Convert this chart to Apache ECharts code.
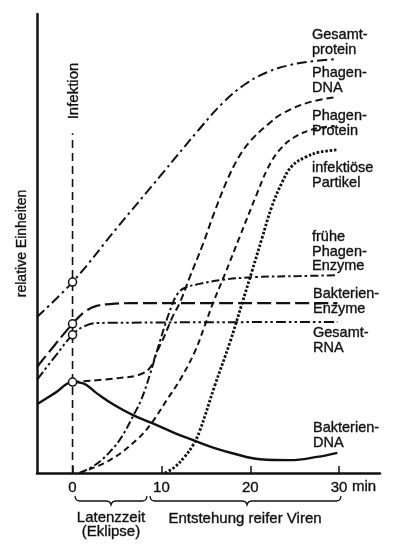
<!DOCTYPE html>
<html><head><meta charset="utf-8">
<script src="https://cdn.jsdelivr.net/npm/echarts@6/dist/echarts.min.js"></script>
<style>html,body{margin:0;padding:0;background:#fff}#c{width:396px;height:560px}</style>
</head><body><div id="c"></div>
<script>
// ---- data (x: minutes after infection, y: relative units 0..100) ----
const xTicks = [0, 10, 20, 30];
const gesamtProtein = [[-4,34.0],[0,41.6],[5,53.4],[10,65.0],[14.3,75.0],[17,80.8],[19.5,84.8],[22,87.4],[24.5,88.9],[27,89.7],[29.8,90.2]];
const phagenDNA = [[0,19.8],[5.3,20.7],[7.5,21.4],[8.7,22.9],[9.5,26.4],[10.4,30.1],[11.2,33.8],[12.1,37.2],[13.2,42.7],[14.7,50.0],[16.0,57.0],[17.4,63.8],[18.7,68.8],[20.0,72.3],[21.9,75.8],[23.7,78.4],[26.7,80.8],[29.8,81.9]];
const phagenProtein = [[0.8,0],[4.2,2.8],[7.2,7.2],[8.9,10.9],[10.6,15.9],[12.1,20.3],[13.75,26.4],[14.9,32.2],[15.8,37.0],[17.1,43.1],[18.8,51.4],[20.7,60.6],[22.0,66.5],[23.3,70.4],[25.0,73.2],[27.3,75.0],[29.5,75.6]];
const infektiosePartikel = [[10.4,0],[11.5,1.3],[12.6,3.5],[13.5,5.9],[14.3,9.1],[16.0,19.0],[17.7,28.4],[19.05,36.8],[20.2,44.0],[21.3,51.0],[22.4,57.9],[23.6,63.4],[24.7,66.9],[26.2,68.8],[27.8,69.9],[29.8,70.4]];
const fruehePhagenEnzyme = [[0.8,0],[2.5,1.7],[4.2,4.6],[5.5,7.8],[7.0,13.1],[7.8,16.3],[8.7,21.4],[9.6,27.2],[10.4,32.2],[11.2,36.6],[11.8,39.0],[12.6,40.3],[14.3,41.2],[16.9,42.1],[20.7,42.7],[25.6,42.9],[29.8,43.1]];
const bakterienEnzyme = [[-4,23.1],[-2,27.9],[0,32.5],[1.35,35.1],[2.7,36.4],[4.2,36.8],[6.4,37.0],[29.8,37.0]];
const gesamtRNA = [[-4,20.3],[-2,25.3],[0,30.1],[1.35,32.0],[3.0,32.7],[29.8,32.9]];
const bakterienDNA = [[-4,15.0],[-2,17.4],[0,19.8],[1.1,19.6],[2.7,17.4],[4.7,14.8],[6.8,12.6],[8.9,10.9],[11.5,8.7],[13.5,7.2],[16.0,5.4],[18.0,4.3],[21.1,3.0],[24.5,2.8],[27.5,3.5],[29.8,4.4]];
const infektionLine = [[0,0],[0,74]];
const infektionCircles = [[0,41.6],[0,32.5],[0,30.1],[0,19.8]];

const curveLabels = [
  {text:'Gesamt-\nprotein', x:312, y:28},
  {text:'Phagen-\nDNA', x:312, y:66},
  {text:'Phagen-\nProtein', x:312, y:109},
  {text:'infektiöse\nPartikel', x:312, y:161},
  {text:'frühe\nPhagen-\nEnzyme', x:312, y:230},
  {text:'Bakterien-\nEnzyme', x:313, y:287},
  {text:'Gesamt-\nRNA', x:313, y:326},
  {text:'Bakterien-\nDNA', x:313, y:421}
];

const FONT = "'Liberation Sans', Arial, sans-serif";
const INK = '#111';
const TXT = {fontFamily:FONT, fill:INK, stroke:INK, lineWidth:0.35};

function curve(name, data, dash, width, smooth) {
  return {
    name, type:'line', data, showSymbol:false, silent:true,
    smooth: smooth === undefined ? 0.4 : smooth,
    lineStyle:{color:INK, width, type:dash, cap:'butt'}, z:3
  };
}
function brace(x0, x1, xm) {
  return {type:'polyline', silent:true, shape:{points:[
      [x0,496],[x0+0.6,498.6],[x0+2,500.3],[x0+4.5,501],[xm-4.5,501],[xm-2,501.7],[xm-0.6,503.2],[xm,505],
      [xm+0.6,503.2],[xm+2,501.7],[xm+4.5,501],[x1-4.5,501],[x1-2,500.3],[x1-0.6,498.6],[x1,496]]},
    style:{fill:null, stroke:INK, lineWidth:1.3}};
}

const chart = echarts.init(document.getElementById('c'), null, {renderer:'canvas'});
const option = {
  animation:false,
  backgroundColor:'#fff',
  grid:{left:37, top:14, width:343, height:459, containLabel:false},
  xAxis:{
    type:'value', min:-4, max:34.6,
    axisLine:{show:true, onZero:false, lineStyle:{color:INK, width:2.5}},
    axisTick:{show:true, inside:true, length:7, customValues:xTicks, lineStyle:{color:INK, width:1.5}},
    axisLabel:{show:true, customValues:xTicks, margin:7, color:INK, fontSize:15, fontFamily:FONT,
               textBorderColor:INK, textBorderWidth:0.35},
    splitLine:{show:false}
  },
  yAxis:{
    type:'value', min:0, max:100,
    name:'relative Einheiten', nameLocation:'middle', nameRotate:90, nameGap:8,
    nameTextStyle:{color:INK, fontSize:14, fontFamily:FONT, textBorderColor:INK, textBorderWidth:0.35},
    axisLine:{show:true, onZero:false, lineStyle:{color:INK, width:2.5}},
    axisTick:{show:false}, axisLabel:{show:false}, splitLine:{show:false}
  },
  series:[
    curve('Infektion', infektionLine, [8,5], 1.6, false),
    curve('Gesamtprotein', gesamtProtein, [10,4,2.5,4], 2),
    curve('Phagen-DNA', phagenDNA, [7,4], 2),
    curve('Phagen-Protein', phagenProtein, [6,4], 2),
    curve('infektiöse Partikel', infektiosePartikel, [2.5,1.8], 2.8),
    curve('frühe Phagen-Enzyme', fruehePhagenEnzyme, [8,3,2.5,3], 2),
    curve('Bakterien-Enzyme', bakterienEnzyme, [14,5], 2.2),
    curve('Gesamt-RNA', gesamtRNA, [10,3,2.5,3,2.5,3], 2),
    curve('Bakterien-DNA', bakterienDNA, 'solid', 2.4),
    {type:'scatter', data:infektionCircles, symbol:'circle', symbolSize:8, silent:true, z:5,
     itemStyle:{color:'#fff', opacity:1, borderColor:INK, borderWidth:1.5}}
  ],
  graphic:[
    ...curveLabels.map(l => ({type:'text', x:l.x, y:l.y, silent:true,
      style:Object.assign({text:l.text, fontSize:14.5, lineHeight:14.5}, TXT)})),
    {type:'text', x:73.5, y:91, rotation:Math.PI/2, silent:true,
      style:Object.assign({text:'Infektion', fontSize:15, textAlign:'center', textVerticalAlign:'middle'}, TXT)},
    {type:'text', x:352, y:479, silent:true,
      style:Object.assign({text:'min', fontSize:15}, TXT)},
    brace(75, 147, 111),
    brace(150, 341, 247),
    {type:'text', x:111, y:511, silent:true,
      style:Object.assign({text:'Latenzzeit\n(Eklipse)', fontSize:15, lineHeight:14, textAlign:'center'}, TXT)},
    {type:'text', x:245, y:511, silent:true,
      style:Object.assign({text:'Entstehung reifer Viren', fontSize:15, textAlign:'center'}, TXT)}
  ]
};
chart.setOption(option);
</script></body></html>
